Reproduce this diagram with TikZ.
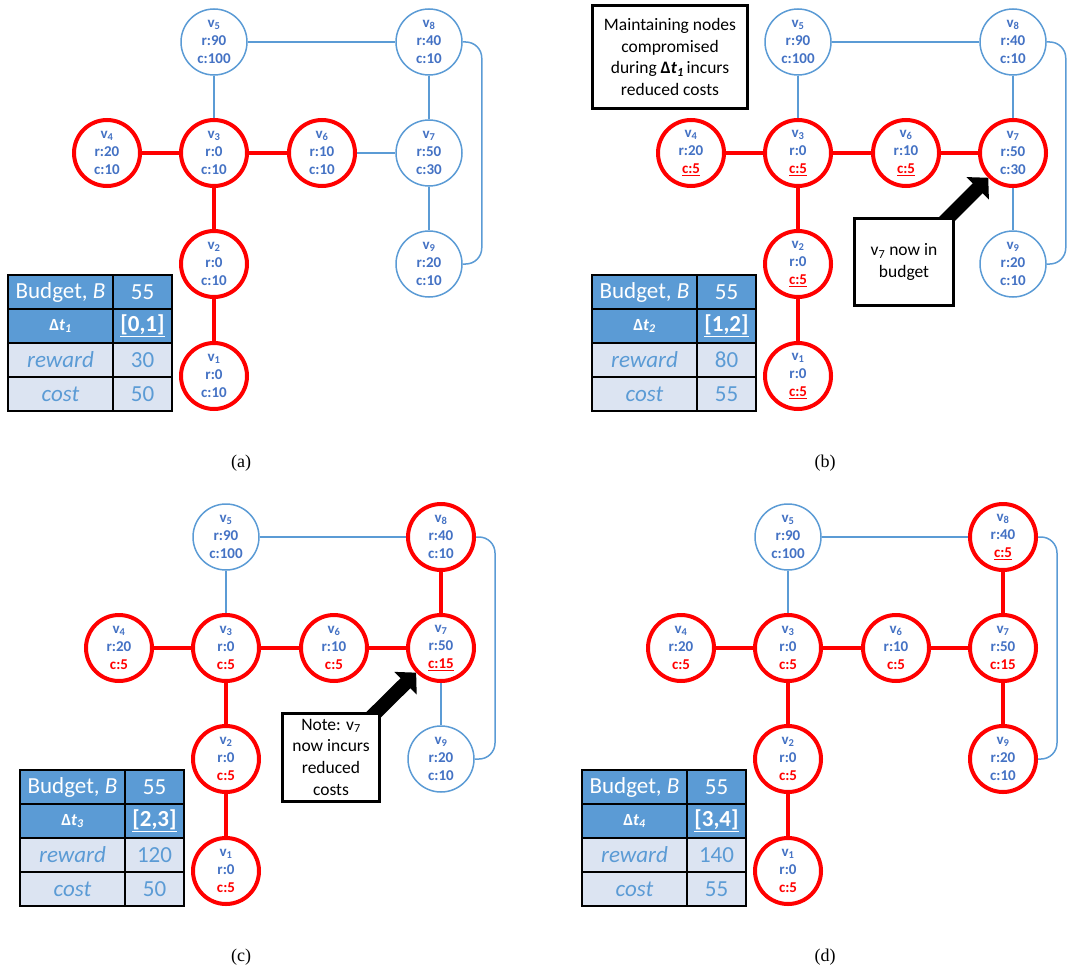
\documentclass[tikz,border=0pt]{standalone}
\usepackage{fontspec}
\usepackage{tikz}
\usetikzlibrary{arrows.meta}
\setmainfont{Carlito}
\newfontfamily\capfont{Liberation Serif}

\definecolor{txtblue}{HTML}{4472C4}
\definecolor{lineblue}{HTML}{5B9BD5}
\definecolor{tabhead}{HTML}{5B9BD5}
\definecolor{tabbody}{HTML}{DCE4F2}

\pgfdeclarelayer{bg}
\pgfsetlayers{bg,main}

\tikzset{
	vtx/.style={shape=circle, draw=lineblue, line width=1.5pt, fill=white, minimum size=66pt, inner sep=0pt,
		align=center, text=txtblue, font=\fontsize{15}{18}\selectfont\bfseries},
	hit/.style={vtx, draw=red, line width=4pt},
	blink/.style={draw=lineblue, line width=1.5pt},
	rlink/.style={draw=red, line width=4pt},
	tcell/.style={draw=black, line width=1.5pt, minimum height=34pt, inner sep=0pt, font=\fontsize{23}{23}\selectfont},
	thead/.style={tcell, fill=tabhead, text=white},
	tbody/.style={tcell, fill=tabbody, text=lineblue},
	wide/.style={minimum width=105pt},
	narrow/.style={minimum width=59pt},
	note/.style={draw=black, line width=3pt, fill=white, align=center, inner sep=0pt, text=black,
		font=\fontsize{17.5}{21.7}\selectfont},
	callarrow/.style={draw=black, line width=14pt, -{Triangle[length=15pt,width=31pt]}, shorten <=-12pt},
	caption/.style={font=\capfont\fontsize{18}{18}\selectfont}
}

% cost labels: reduced cost, and the one that just changed
\newcommand{\cred}[1]{\textcolor{red}{#1}}
\newcommand{\cnew}[1]{\textcolor{red}{\underline{#1}}}

% budget table, #1 = name prefix
\newcommand{\budgettab}[5]{%
	\node[thead, wide]   (#1ba) at (60.5, 292)  {Budget, \textit{B}};
	\node[thead, narrow] (#1bb) at (142.5, 292) {55};
	\node[thead, wide]   (#1ta) at (60.5, 326)  {\fontsize{17}{17}\selectfont\bfseries Δ\textit{t}\textsubscript{\textit{#2}}};
	\node[thead, narrow] (#1tb) at (142.5, 326) {\bfseries\underline{#3}};
	\node[tbody, wide]   (#1ra) at (60.5, 360)  {\textit{reward}};
	\node[tbody, narrow] (#1rb) at (142.5, 360) {#4};
	\node[tbody, wide]   (#1ca) at (60.5, 394)  {\textit{cost}};
	\node[tbody, narrow] (#1cb) at (142.5, 394) {#5};
}

\begin{document}
\begin{tikzpicture}[x=1pt, y=-1pt]
	\useasboundingbox (0,0) rectangle (1083,971);

	% (a)
	\begin{scope}
	\node[vtx] (a5) at (214, 42)  {v\textsubscript{5}\\r:90\\c:100};
	\node[vtx] (a8) at (429, 42)  {v\textsubscript{8}\\r:40\\c:10};
	\node[hit] (a4) at (107, 153) {v\textsubscript{4}\\r:20\\c:10};
	\node[hit] (a3) at (214, 153) {v\textsubscript{3}\\r:0\\c:10};
	\node[hit] (a6) at (322, 153) {v\textsubscript{6}\\r:10\\c:10};
	\node[vtx] (a7) at (429, 153) {v\textsubscript{7}\\r:50\\c:30};
	\node[hit] (a2) at (214, 264) {v\textsubscript{2}\\r:0\\c:10};
	\node[vtx] (a9) at (429, 264) {v\textsubscript{9}\\r:20\\c:10};
	\node[hit] (a1) at (214, 376) {v\textsubscript{1}\\r:0\\c:10};

	\path[rlink] (a4) edge (a3);
	\path[rlink] (a3) edge (a6);
	\path[rlink] (a3) edge (a2);
	\path[rlink] (a2) edge (a1);
	\path[blink] (a5) edge (a3);
	\path[blink] (a5) edge (a8);
	\path[blink] (a6) edge (a7);
	\path[blink] (a8) edge (a7);
	\path[blink] (a7) edge (a9);
	\draw[blink, rounded corners=16pt] (a8.east) -- ++(19,0) |- (a9.east);

	\budgettab{a}{1}{[0,1]}{30}{50}
	\node[caption] (capa) at (241, 463) {(a)};
	\end{scope}

	% (b)
	\begin{scope}[shift={(584,0)}]
	\node[vtx] (b5) at (214, 42)  {v\textsubscript{5}\\r:90\\c:100};
	\node[vtx] (b8) at (429, 42)  {v\textsubscript{8}\\r:40\\c:10};
	\node[hit] (b4) at (107, 153) {v\textsubscript{4}\\r:20\\\cnew{c:5}};
	\node[hit] (b3) at (214, 153) {v\textsubscript{3}\\r:0\\\cnew{c:5}};
	\node[hit] (b6) at (322, 153) {v\textsubscript{6}\\r:10\\\cnew{c:5}};
	\node[hit] (b7) at (429, 153) {v\textsubscript{7}\\r:50\\c:30};
	\node[hit] (b2) at (214, 264) {v\textsubscript{2}\\r:0\\\cnew{c:5}};
	\node[vtx] (b9) at (429, 264) {v\textsubscript{9}\\r:20\\c:10};
	\node[hit] (b1) at (214, 376) {v\textsubscript{1}\\r:0\\\cnew{c:5}};

	\path[rlink] (b4) edge (b3);
	\path[rlink] (b3) edge (b6);
	\path[rlink] (b3) edge (b2);
	\path[rlink] (b2) edge (b1);
	\path[rlink] (b6) edge (b7);
	\path[blink] (b5) edge (b3);
	\path[blink] (b5) edge (b8);
	\path[blink] (b8) edge (b7);
	\path[blink] (b7) edge (b9);
	\draw[blink, rounded corners=16pt] (b8.east) -- ++(19,0) |- (b9.east);

	\node[note, minimum width=155pt, minimum height=103pt] (bmsg) at (86, 57)
		{Maintaining nodes\\compromised\\during {\bfseries Δ\textit{t}\textsubscript{\textit{1}}}\,incurs\\reduced costs};
	\node[note, minimum width=99pt, minimum height=87pt] (bnote) at (320, 262)
		{v\textsubscript{7} now in\\budget};
	\begin{pgfonlayer}{bg}
		\draw[callarrow] (bnote) -- (b7);
	\end{pgfonlayer}

	\budgettab{b}{2}{[1,2]}{80}{55}
	\node[caption] (capb) at (241, 463) {(b)};
	\end{scope}

	% (c)
	\begin{scope}[shift={(12,495)}]
	\node[vtx] (c5) at (214, 42)  {v\textsubscript{5}\\r:90\\c:100};
	\node[hit] (c8) at (429, 42)  {v\textsubscript{8}\\r:40\\c:10};
	\node[hit] (c4) at (107, 153) {v\textsubscript{4}\\r:20\\\cred{c:5}};
	\node[hit] (c3) at (214, 153) {v\textsubscript{3}\\r:0\\\cred{c:5}};
	\node[hit] (c6) at (322, 153) {v\textsubscript{6}\\r:10\\\cred{c:5}};
	\node[hit] (c7) at (429, 153) {v\textsubscript{7}\\r:50\\\cnew{c:15}};
	\node[hit] (c2) at (214, 264) {v\textsubscript{2}\\r:0\\\cred{c:5}};
	\node[vtx] (c9) at (429, 264) {v\textsubscript{9}\\r:20\\c:10};
	\node[hit] (c1) at (214, 376) {v\textsubscript{1}\\r:0\\\cred{c:5}};

	\path[rlink] (c4) edge (c3);
	\path[rlink] (c3) edge (c6);
	\path[rlink] (c3) edge (c2);
	\path[rlink] (c2) edge (c1);
	\path[rlink] (c6) edge (c7);
	\path[rlink] (c8) edge (c7);
	\path[blink] (c5) edge (c3);
	\path[blink] (c5) edge (c8);
	\path[blink] (c7) edge (c9);
	\draw[blink, rounded corners=16pt] (c8.east) -- ++(19,0) |- (c9.east);

	\node[note, minimum width=97pt, minimum height=88pt] (cnote) at (319, 262)
		{Note: v\textsubscript{7}\\now incurs\\reduced\\costs};
	\begin{pgfonlayer}{bg}
		\draw[callarrow] (cnote) -- (c7);
	\end{pgfonlayer}

	\budgettab{c}{3}{[2,3]}{120}{50}
	\node[caption] (capc) at (229, 462) {(c)};
	\end{scope}

	% (d)
	\begin{scope}[shift={(574,495)}]
	\node[vtx] (d5) at (214, 42)  {v\textsubscript{5}\\r:90\\c:100};
	\node[hit] (d8) at (429, 42)  {v\textsubscript{8}\\r:40\\\cnew{c:5}};
	\node[hit] (d4) at (107, 153) {v\textsubscript{4}\\r:20\\\cred{c:5}};
	\node[hit] (d3) at (214, 153) {v\textsubscript{3}\\r:0\\\cred{c:5}};
	\node[hit] (d6) at (322, 153) {v\textsubscript{6}\\r:10\\\cred{c:5}};
	\node[hit] (d7) at (429, 153) {v\textsubscript{7}\\r:50\\\cred{c:15}};
	\node[hit] (d2) at (214, 264) {v\textsubscript{2}\\r:0\\\cred{c:5}};
	\node[hit] (d9) at (429, 264) {v\textsubscript{9}\\r:20\\c:10};
	\node[hit] (d1) at (214, 376) {v\textsubscript{1}\\r:0\\\cred{c:5}};

	\path[rlink] (d4) edge (d3);
	\path[rlink] (d3) edge (d6);
	\path[rlink] (d3) edge (d2);
	\path[rlink] (d2) edge (d1);
	\path[rlink] (d6) edge (d7);
	\path[rlink] (d8) edge (d7);
	\path[rlink] (d7) edge (d9);
	\path[blink] (d5) edge (d3);
	\path[blink] (d5) edge (d8);
	\draw[blink, rounded corners=16pt] (d8.east) -- ++(19,0) |- (d9.east);

	\budgettab{d}{4}{[3,4]}{140}{55}
	\node[caption] (capd) at (251, 462) {(d)};
	\end{scope}
\end{tikzpicture}
\end{document}
